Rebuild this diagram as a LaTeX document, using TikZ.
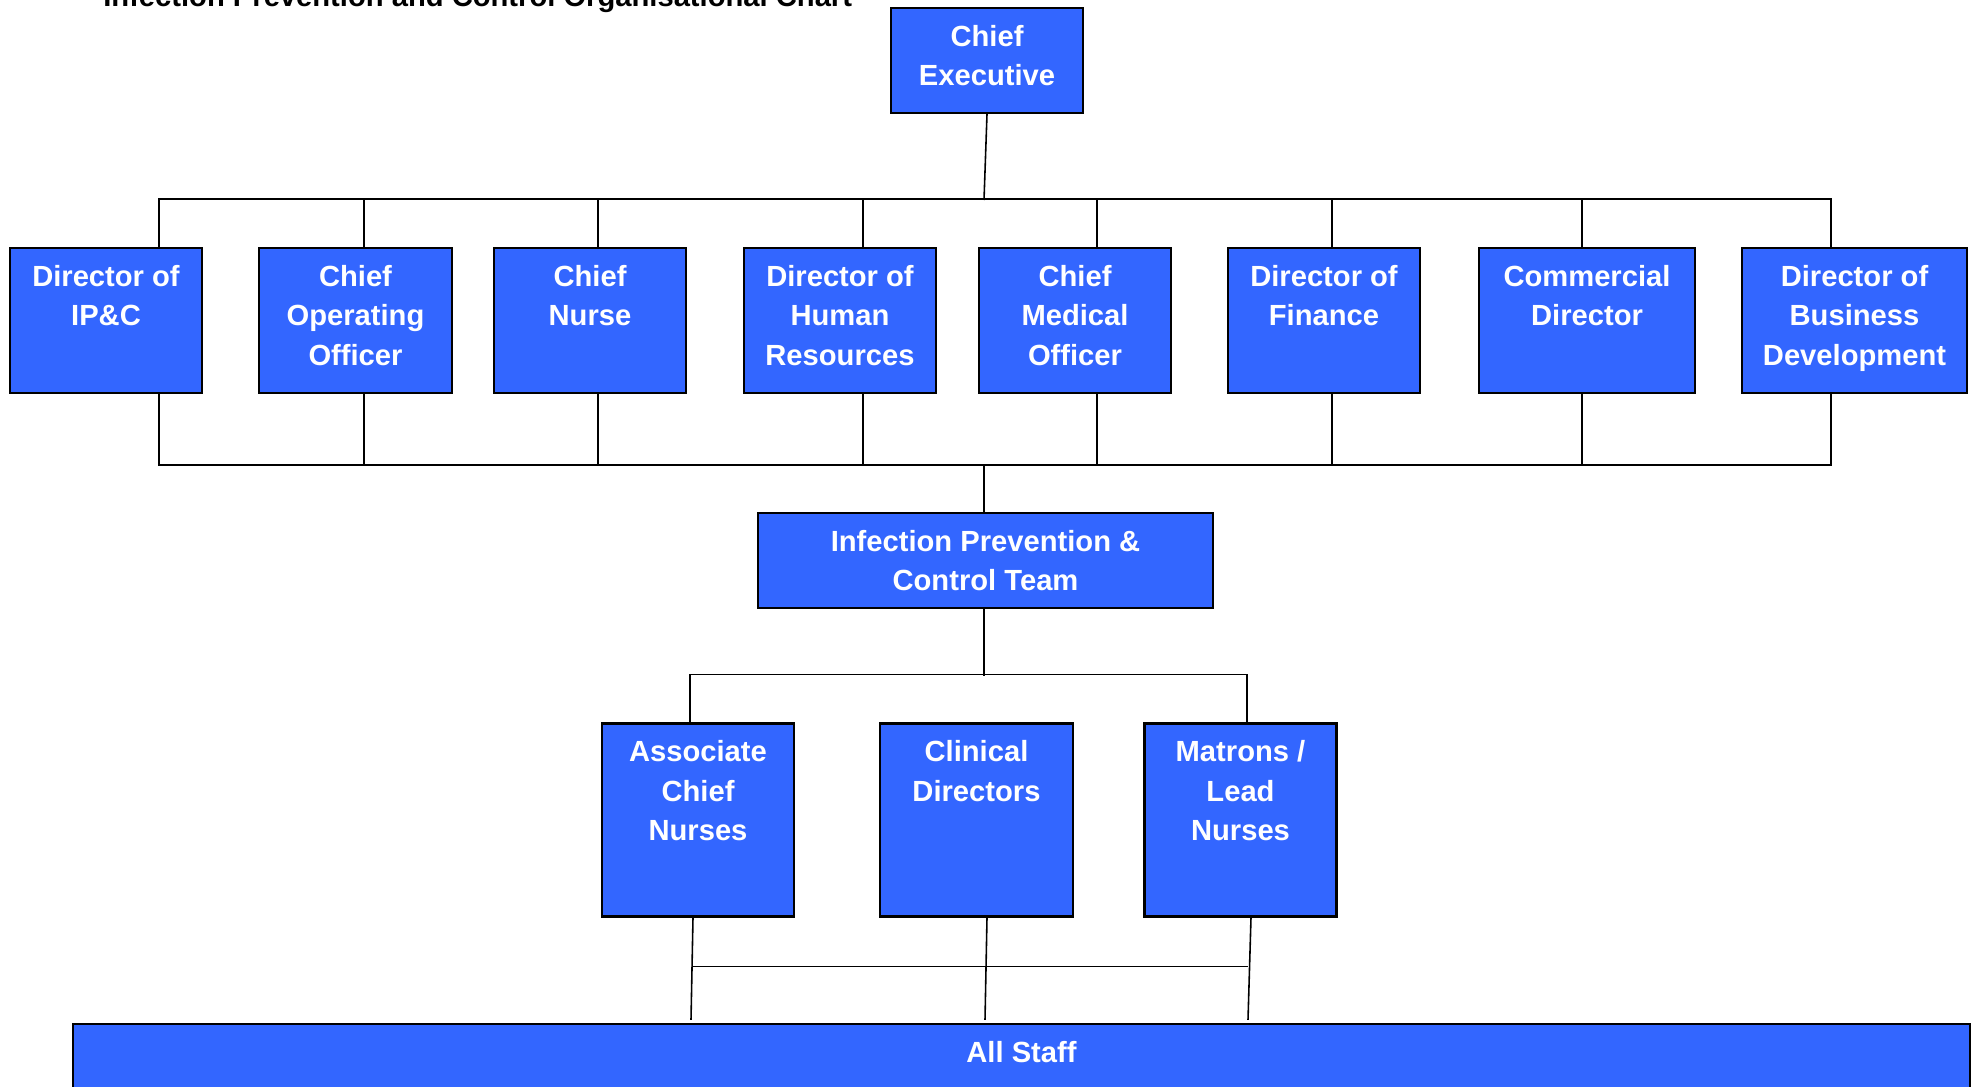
\documentclass[tikz,border=0pt]{standalone}
\usepackage{fontspec}
\setmainfont{Liberation Sans}
\usetikzlibrary{calc}
\definecolor{boxblue}{RGB}{51,102,255}

\begin{document}
\begin{tikzpicture}[x=0.02cm, y=-0.02cm,
        role/.style={draw=black, fill=boxblue, line width=1.3pt, inner sep=0pt, minimum width=3.84cm, minimum height=2.9cm},
        roletext/.style={anchor=north, align=center, text=white, inner sep=0pt, yshift=-10.2pt, font=\fontsize{16.6pt}{22.5pt}\selectfont\bfseries},
        link/.style={line width=0.9pt}]
        \useasboundingbox (0,0) rectangle (1975,1086);

        \node[anchor=base west, inner sep=0pt, font=\fontsize{16.6pt}{22.5pt}\selectfont\bfseries] (title) at (103,6) {Infection Prevention and Control Organisational Chart};

        \node[role, minimum height=2.1cm, label={[roletext]north:Chief\\Executive}] (ceo) at (987,60.5) {};

        \node[role, label={[roletext]north:Director of\\IP\&C}] (ipc) at (106,320.5) {};
        \node[role, minimum width=3.86cm, label={[roletext]north:Chief\\Operating\\Officer}] (coo) at (355.5,320.5) {};
        \node[role, label={[roletext]north:Chief\\Nurse}] (cn) at (590,320.5) {};
        \node[role, label={[roletext]north:Director of\\Human\\Resources}] (hr) at (840,320.5) {};
        \node[role, label={[roletext]north:Chief\\Medical\\Officer}] (cmo) at (1075,320.5) {};
        \node[role, label={[roletext]north:Director of\\Finance}] (fin) at (1324,320.5) {};
        \node[role, minimum width=4.32cm, label={[roletext]north:Commercial\\Director}] (com) at (1587,320.5) {};
        \node[role, minimum width=4.5cm, label={[roletext]north:Director of\\Business\\Development}] (bd) at (1854.5,320.5) {};

        \node[role, minimum width=9.1cm, minimum height=1.9cm, label={[roletext]north:Infection Prevention \&\\Control Team}] (ipct) at (985.5,560.5) {};

        \node[role, minimum height=3.86cm, label={[roletext]north:Associate\\Chief\\Nurses}] (acn) at (698,820) {};
        \node[role, minimum width=3.86cm, minimum height=3.86cm, label={[roletext]north:Clinical\\Directors}] (cd) at (976.5,820) {};
        \node[role, minimum height=3.86cm, label={[roletext]north:Matrons /\\Lead\\Nurses}] (mln) at (1240.5,820) {};

        \node[role, minimum width=37.94cm, minimum height=1.9cm, label={[roletext]north:All Staff}] (staff) at (1021.5,1071.5) {};

        \coordinate (bus1) at (984,200);
        \coordinate (bus2) at (984,464);
        \coordinate (bus3) at (984,676);
        \draw[link] (ceo.south) -- (bus1);
        \draw[link] ($(ipc.north)+(53,0)$) -- ++(0,-48) -| ($(bd.north)+(-23.5,0)$);
        \draw[link] ($(ipc.south)+(53,0)$) -- ++(0,71) -| ($(bd.south)+(-23.5,0)$);
        \foreach \n/\dx in {coo/8.5, cn/8, hr/23, cmo/22, fin/8, com/-5} {
            \draw[link] ($(\n.north)+(\dx,0)$) -- ++(0,-48);
            \draw[link] ($(\n.south)+(\dx,0)$) -- ++(0,71);
        }
        \draw[link] (bus2) -- (bus2 |- ipct.north);
        \draw[link] (ipct.south -| bus3) -- (bus3);
        \draw[link] ($(acn.north)+(-8,0)$) |- ($(mln.north)+(6.5,-48)$) -- ($(mln.north)+(6.5,0)$);

        \draw[link] ($(acn.south)+(-5,0)$) -- ($(acn.south |- staff.north)+(-7,-3)$);
        \draw[link] ($(cd.south)+(10.5,0)$) -- ($(cd.south |- staff.north)+(8.5,-3)$);
        \draw[link] ($(mln.south)+(10.5,0)$) -- ($(mln.south |- staff.north)+(7.5,-3)$);
        \draw[link] ($(acn.south)+(-6,49)$) -- ($(mln.south)+(7,49)$);
    \end{tikzpicture}
\end{document}
